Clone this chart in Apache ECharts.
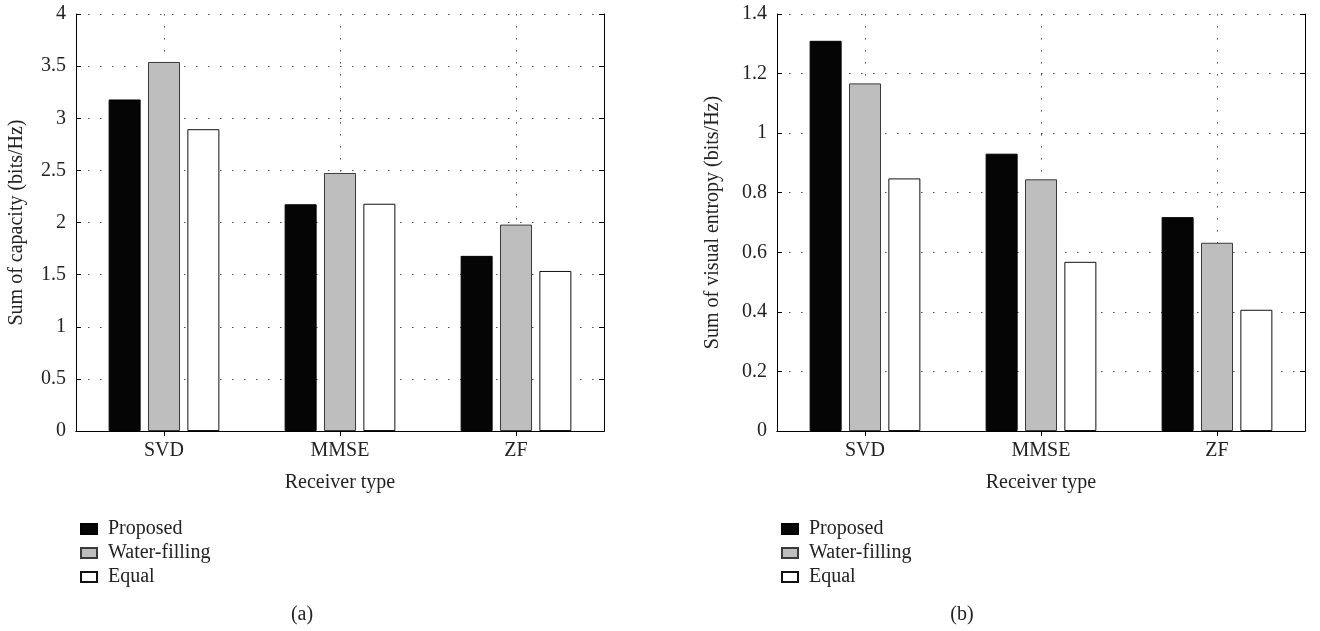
<!DOCTYPE html>
<html>
<head>
<meta charset="utf-8">
<script src="https://cdn.jsdelivr.net/npm/echarts@6/dist/echarts.min.js"></script>
<style>
html,body{margin:0;padding:0;background:#fff;}
#chart{width:1320px;height:631px;}
</style>
</head>
<body>
<div id="chart"></div>
<script>
const categories = ['SVD', 'MMSE', 'ZF'];
const seriesNames = ['Proposed', 'Water-filling', 'Equal'];
const capProposed = [3.18, 2.175, 1.68];
const capWater = [3.54, 2.475, 1.98];
const capEqual = [2.895, 2.18, 1.535];
const entProposed = [1.31, 0.931, 0.718];
const entWater = [1.167, 0.845, 0.632];
const entEqual = [0.848, 0.568, 0.407];
const helperTicks = ['0', '1', '2', '3', '4', '5', '6'];
const yTitles = ['Sum of capacity (bits/Hz)', 'Sum of visual entropy (bits/Hz)'];
const xTitle = 'Receiver type';
const captions = ['(a)', '(b)'];

const FONT = 'Liberation Serif';
const TXT = '#222';
const FS = 20;
const dotted = { color: '#555', width: 1, type: [1.6, 10.4] };
const fills = ['#050505', '#bebebe', '#ffffff'];
const borders = ['#000', '#3a3a3a', '#111'];

const grids = [
  { left: 76, top: 14, width: 528, height: 417 },
  { left: 777, top: 14, width: 528, height: 417 }
];

const xAxes = [], yAxes = [], series = [], legends = [];
const yCfg = [{ min: 0, max: 4, interval: 0.5 }, { min: 0, max: 1.4, interval: 0.2 }];
const data = [[capProposed, capWater, capEqual], [entProposed, entWater, entEqual]];
const yNameGap = [49, 54];

for (let g = 0; g < 2; g++) {
  xAxes.push({
    type: 'category', gridIndex: g, data: categories, position: 'bottom',
    axisLine: { show: true, lineStyle: { color: '#000', width: 1 } },
    axisTick: { show: true, inside: true, alignWithLabel: true, length: 5, lineStyle: { color: '#000' } },
    axisLabel: { fontFamily: FONT, fontSize: FS, color: TXT, margin: 10 },
    splitLine: { show: false },
    name: xTitle, nameLocation: 'middle', nameGap: 42,
    nameTextStyle: { fontFamily: FONT, fontSize: FS, color: TXT }
  });
  xAxes.push({
    type: 'category', gridIndex: g, data: helperTicks, position: 'top', boundaryGap: false,
    axisLine: { show: true, lineStyle: { color: '#000', width: 1 } },
    axisTick: { show: true, inside: true, length: 5, interval: (i) => i % 2 === 1, lineStyle: { color: '#000' } },
    axisLabel: { show: false },
    splitLine: { show: true, interval: (i) => i % 2 === 1, lineStyle: dotted }
  });
  yAxes.push({
    type: 'value', gridIndex: g, position: 'left', min: yCfg[g].min, max: yCfg[g].max, interval: yCfg[g].interval,
    axisLine: { show: true, lineStyle: { color: '#000', width: 1 } },
    axisTick: { show: true, inside: true, length: 5, lineStyle: { color: '#000' } },
    axisLabel: { fontFamily: FONT, fontSize: FS, color: TXT, margin: 10 },
    splitLine: { show: true, lineStyle: dotted },
    name: yTitles[g], nameLocation: 'middle', nameRotate: 90, nameGap: yNameGap[g],
    nameTextStyle: { fontFamily: FONT, fontSize: FS, color: TXT }
  });
  yAxes.push({
    type: 'value', gridIndex: g, position: 'right', min: yCfg[g].min, max: yCfg[g].max, interval: yCfg[g].interval,
    axisLine: { show: true, lineStyle: { color: '#000', width: 1 } },
    axisTick: { show: true, inside: true, length: 5, lineStyle: { color: '#000' } },
    axisLabel: { show: false },
    splitLine: { show: false }
  });
  for (let s = 0; s < 3; s++) {
    series.push({
      type: 'bar', name: seriesNames[s], xAxisIndex: g * 2, yAxisIndex: g * 2,
      data: data[g][s], barWidth: 32, barGap: '23%',
      itemStyle: { color: fills[s], borderColor: borders[s], borderWidth: 1 },
      emphasis: { disabled: true }, animation: false
    });
  }
  legends.push({
    data: seriesNames, orient: 'vertical', left: grids[g].left - 1, top: 514,
    icon: 'rect', itemWidth: 16, itemHeight: 10, itemGap: 4, selectedMode: false,
    textStyle: { fontFamily: FONT, fontSize: FS, color: TXT, padding: [0, 0, 0, 6] }
  });
}

const titles = [
  { text: captions[0], left: 297, top: 600, textAlign: 'center',
    textStyle: { fontFamily: FONT, fontSize: FS, fontWeight: 'normal', color: TXT } },
  { text: captions[1], left: 957, top: 600, textAlign: 'center',
    textStyle: { fontFamily: FONT, fontSize: FS, fontWeight: 'normal', color: TXT } }
];

const chart = echarts.init(document.getElementById('chart'), null, { renderer: 'canvas' });
chart.setOption({
  backgroundColor: '#fff',
  animation: false,
  title: titles,
  grid: grids,
  xAxis: xAxes,
  yAxis: yAxes,
  legend: legends,
  series: series
});
</script>
</body>
</html>
